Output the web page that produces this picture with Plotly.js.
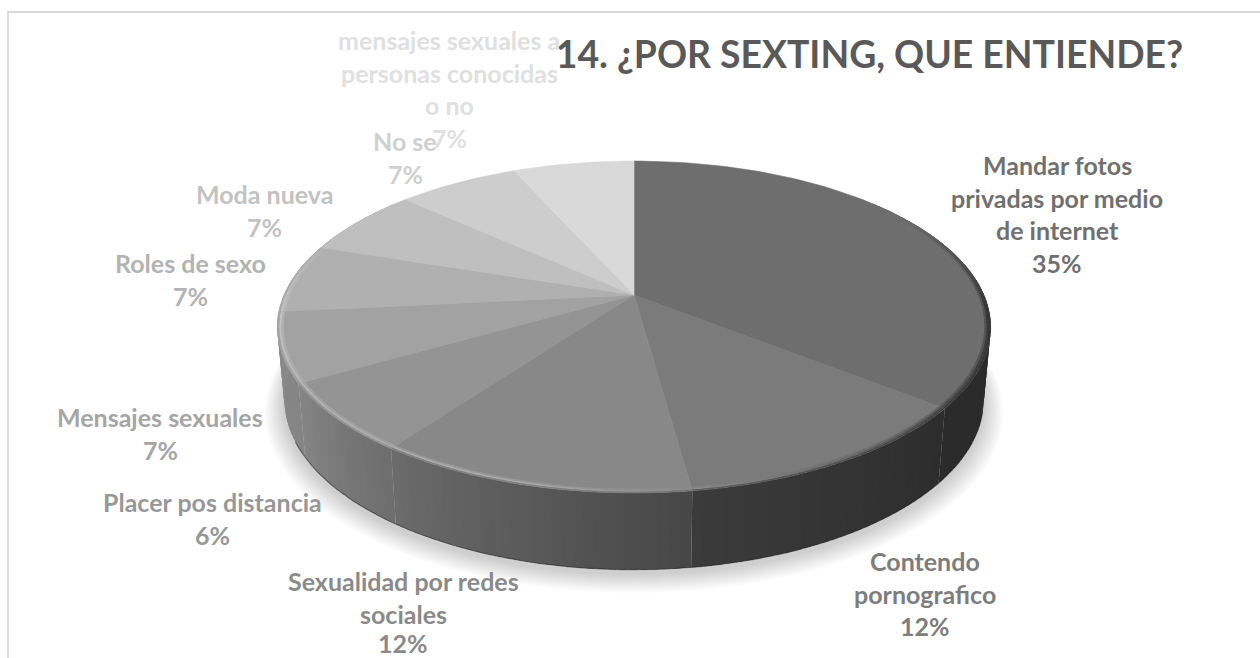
<!DOCTYPE html>
<html><head><meta charset="utf-8">
<script src="https://cdn.plot.ly/plotly-3.0.1.min.js"></script>
<style>html,body{margin:0;padding:0;background:#fff;overflow:hidden}#chart{width:1260px;height:658px}</style>
</head><body><div id="chart"></div>
<script>
// ---- data ----
const categories = ["Mandar fotos<br>privadas por medio<br>de internet","Contendo<br>pornografico","Sexualidad por redes<br>sociales","Placer pos distancia","Mensajes sexuales","Roles de sexo","Moda nueva","No se","mensajes sexuales a<br>personas conocidas<br>o no"];
const values = [35.7,12.1,12.1,6.7,6.7,6.7,6.7,6.6,6.6];
const percentLabels = ["35%","12%","12%","6%","7%","7%","7%","7%","7%"];
const chartTitle = "14. ¿POR SEXTING, QUE ENTIENDE?";

// ---- styles and layout ----
const sliceColors = ["#6e6e6e","#7b7b7b","#888888","#949494","#a2a2a2","#b0b0b0","#bfbfbf","#cdcdcd","#d9d9d9"];
const labelColors = ["#707070","#7d7d7d","#8a8a8a","#979797","#a5a5a5","#b3b3b3","#c2c2c2","#d0d0d0","#e0e0e0"];
const wallStart = ["#2e2e2e","#2d2d2d","#474747","#6e6e6e","#858585","#8a8a8a","#8a8a8a","#8a8a8a","#8a8a8a"];
const wallEnd   = ["#2b2b2b","#3b3b3b","#6c6c6c","#868686","#8a8a8a","#8a8a8a","#8a8a8a","#8a8a8a","#8a8a8a"];
const labelCenters = [[1057,165],[925,561],[403,581],[212,502],[160,417],[190,263],[264,194],[405,141],[449,40]];
const lineStep = 32.6, labelSize = 25, labelMaxY = 643;
const font = "Lato, 'Open Sans', sans-serif";
const faceRing = {cx:634, ay:295, A:350, B:159.8, p:0.193};
const baseRing = {cx:634, ay:367, A:343, B:163.6, p:0.193};

const hex = c => [1,3,5].map(i => parseInt(c.substr(i,2),16));
const toHex = a => '#' + a.map(v => Math.round(v).toString(16).padStart(2,'0')).join('');
const mix = (a,b,t) => { const x=hex(a), y=hex(b); return toHex(x.map((v,i)=>v+(y[i]-v)*t)); };
const rad = d => d*Math.PI/180;
const pt = (ring,deg,r=1) => { const s=Math.sin(rad(deg))*r, c=Math.cos(rad(deg))*r, w=1+ring.p*c;
  return [ring.cx+ring.A*s/w, ring.ay-ring.B*c/w]; };

const total = values.reduce((a,b)=>a+b,0);
const edges = [0]; values.forEach(v => edges.push(edges[edges.length-1]+v/total*360));
const poly = (pts,color,name,lw=0.6) => ({type:'scatter',mode:'lines',x:pts.map(p=>p[0]),y:pts.map(p=>p[1]),fill:'toself',fillcolor:color,
  line:{color:color,width:lw},hoverinfo:name?'text':'skip',text:name||'',showlegend:false});

const traces = [];
// soft shadow under the disc
const shadowLayers = 12;
for (let k=shadowLayers;k>=1;k--) {
  const pts=[]; const grow = 1 + k*0.0045;
  for (let d=0;d<360;d+=3){ const q=pt(baseRing,d,grow); pts.push([q[0],q[1]+4+k*0.45]); }
  traces.push({type:'scatter',mode:'lines',x:pts.map(p=>p[0]),y:pts.map(p=>p[1]),fill:'toself',fillcolor:'rgba(0,0,0,0.015)',line:{width:0},hoverinfo:'skip',showlegend:false});
}
// walks each slice's arc in small overlapping steps, clipped to [from,to]
const eachStep = (from,to,step,fn) => {
  values.forEach((v,i) => {
    const a=Math.max(from,edges[i]), b=Math.min(to,edges[i+1]);
    if (b<=a) return;
    const n=Math.ceil((b-a)/step);
    for (let j=0;j<n;j++){
      const s=a+(b-a)*j/n, e=Math.min(b,a+(b-a)*(j+1.7)/n);
      fn(i,s,e,(s-edges[i])/(edges[i+1]-edges[i]));
    }
  });
};
// side wall
eachStep(50,310,1.5,(i,s,e,t) => {
  traces.push(poly([pt(faceRing,s),pt(faceRing,e),pt(baseRing,e),pt(baseRing,s)],mix(wallStart[i],wallEnd[i],t),null,0));
});
// dark lower edge of the wall
{ const pts=[]; for(let d=105;d<=245;d+=2) pts.push(pt(baseRing,d));
  traces.push({type:'scatter',mode:'lines',x:pts.map(p=>p[0]),y:pts.map(p=>p[1]),line:{color:'rgba(35,35,35,0.5)',width:1.2},hoverinfo:'skip',showlegend:false}); }
// top face: one polygon per slice, from the values
values.forEach((v,i) => {
  const pts=[pt(faceRing,0,0)];
  const n=Math.ceil((edges[i+1]-edges[i])/1.5);
  for(let j=0;j<=n;j++) pts.push(pt(faceRing,edges[i]+(edges[i+1]-edges[i])*j/n));
  pts.push(pt(faceRing,0,0));
  traces.push(poly(pts,sliceColors[i],categories[i].replace(/<br>/g,' ')+': '+percentLabels[i]));
});
// bevel on the rim
const hlStops = [[46,'#3a3a3a'],[100,'#383838'],[130,'#4a4a4a'],[172,'#8a8a8a'],[195,'#a8a8a8'],[235,'#b2b2b2'],[265,'#c4c4c4'],[314,'#c8c8c8']];
const hlAt = d => { for(let i=0;i<hlStops.length-1;i++){const a=hlStops[i],b=hlStops[i+1]; if(d<=b[0]) return mix(a[1],b[1],(d-a[0])/(b[0]-a[0]));} return hlStops[hlStops.length-1][1]; };
const fade = d => d<95?Math.max(0,(d-58)/37):(d>262?Math.max(0,(295-d)/33):1);
eachStep(58,296,1.5,(i,s,e) => {
  const m=(s+e)/2, f=sliceColors[i], a=fade(m);
  const hl=mix(f,hlAt(m),a), w=mix(f,mix(wallEnd[i],wallStart[i],0.5),a);
  const bands=[[.983,.989,mix(f,hl,.5)],[.989,.995,hl],[.995,1,mix(hl,w,.5)]];
  bands.forEach(b => traces.push(poly([pt(faceRing,s,b[0]),pt(faceRing,e,b[0]),pt(faceRing,e,b[1]),pt(faceRing,s,b[1])],b[2],null,0)));
});

// labels: each text line placed separately to hold the line spacing
const annotations=[];
categories.forEach((c,i)=>{
  c.split('<br>').concat([percentLabels[i]]).forEach((line,j)=>{
    annotations.push({x:labelCenters[i][0],y:Math.min(labelMaxY,labelCenters[i][1]+j*lineStep),xref:'x',yref:'y',text:line,showarrow:false,
      xanchor:'center',yanchor:'middle',font:{family:font,size:labelSize,color:labelColors[i],weight:700}});
  });
});

const layout={width:1260,height:658,autosize:false,margin:{l:0,r:0,t:0,b:0},paper_bgcolor:'#ffffff',plot_bgcolor:'#ffffff',showlegend:false,
  title:{text:'<b>'+chartTitle+'</b>',x:869.5/1260,xanchor:'center',xref:'paper',y:1-55/658,yanchor:'middle',yref:'paper',font:{family:font,size:37.3,color:'#595959'}},
  xaxis:{range:[0,1260],visible:false,fixedrange:true},
  yaxis:{range:[658,0],visible:false,fixedrange:true},
  shapes:[{type:'rect',xref:'x',yref:'y',x0:8,x1:1300,y0:12,y1:720,line:{color:'#d9d9d9',width:2},fillcolor:'rgba(0,0,0,0)',layer:'below'}],
  annotations};
Plotly.newPlot('chart',traces,layout,{displayModeBar:false,staticPlot:true});
</script></body></html>
